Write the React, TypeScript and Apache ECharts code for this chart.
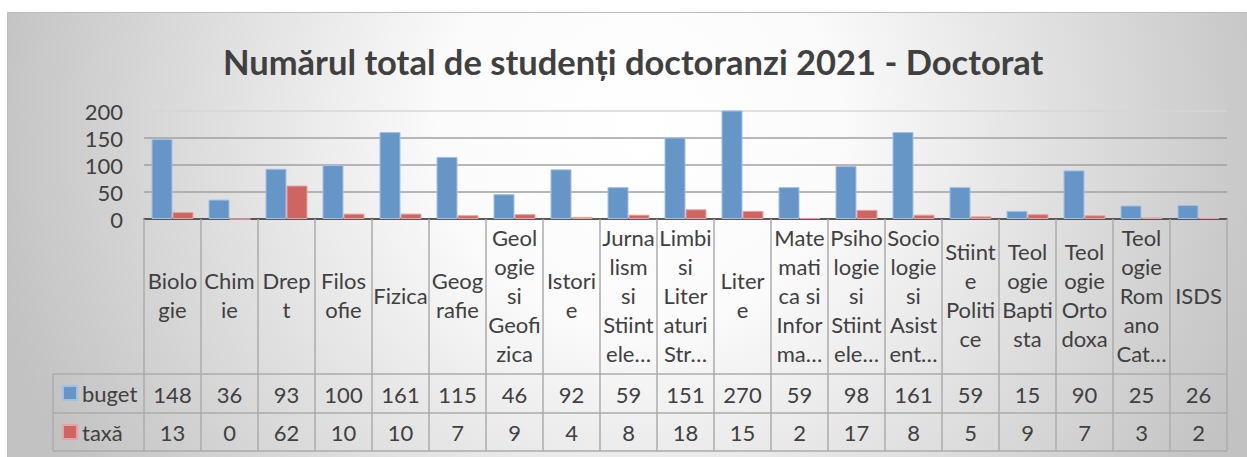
import React, { useEffect, useRef } from "react";
import * as echarts from "echarts";

const TITLE = "Numărul total de studenți doctoranzi 2021 - Doctorat";
const categories = [
  "Biolo\ngie",
  "Chim\nie",
  "Drep\nt",
  "Filos\nofie",
  "Fizica",
  "Geog\nrafie",
  "Geol\nogie\nsi\nGeofi\nzica",
  "Istori\ne",
  "Jurna\nlism\nsi\nStiint\nele…",
  "Limbi\nsi\nLiter\naturi\nStr…",
  "Liter\ne",
  "Mate\nmati\nca si\nInfor\nma…",
  "Psiho\nlogie\nsi\nStiint\nele…",
  "Socio\nlogie\nsi\nAsist\nent…",
  "Stiint\ne\nPoliti\nce",
  "Teol\nogie\nBapti\nsta",
  "Teol\nogie\nOrto\ndoxa",
  "Teol\nogie\nRom\nano\nCat…",
  "ISDS",
];
const buget = [148, 36, 93, 100, 161, 115, 46, 92, 59, 151, 270, 59, 98, 161, 59, 15, 90, 25, 26];
const taxa = [13, 0, 62, 10, 10, 7, 9, 4, 8, 18, 15, 2, 17, 8, 5, 9, 7, 3, 2];
const seriesNames = ["buget", "taxă"];
const yTicks = { min: 0, max: 200, interval: 50 };

const W = 1247;
const H = 457;
const FONT = "Lato, 'Noto Sans', sans-serif";
const FS = 22;
const TXT = "#404040";
const GRID = { left: 144, right: 20, top: 111, bottom: 238 };
const AXIS_Y = H - GRID.bottom; // 219
const ROW1 = 374;
const ROW2 = 413;
const ROW3 = 451;
const TABLE_LEFT = 53;
const TABLE_RIGHT = W - GRID.right;
const LINE = "#ababab";

export default function App() {
  const ref = useRef<HTMLDivElement>(null);
  useEffect(() => {
    if (!ref.current) return;
    const chart = echarts.init(ref.current, undefined, { renderer: "svg" });
    const valueAxis = (vals: number[], margin: number) => ({
      type: "category",
      data: vals.map(String),
      position: "bottom",
      offset: 0,
      axisLine: { show: false },
      axisTick: { show: false },
      axisLabel: {
        interval: 0,
        margin,
        verticalAlign: "middle",
        fontFamily: FONT,
        fontSize: FS,
        color: TXT,
      },
    });
    const hline = (y: number) => ({
      type: "line",
      z: 5,
      shape: { x1: TABLE_LEFT, y1: y, x2: TABLE_RIGHT, y2: y },
      style: { stroke: LINE, lineWidth: 1.5 },
    });
    chart.setOption({
      animation: false,
      backgroundColor: "#ffffff",
      title: {
        text: TITLE,
        left: 218,
        top: 39,
        textStyle: { fontFamily: FONT, fontSize: 34.5, fontWeight: "bold", color: TXT },
      },
      graphic: [
        {
          type: "rect",
          z: -100,
          silent: true,
          shape: { x: 7.5, y: 12.5, width: W - 7, height: H - 12 },
          style: {
            fill: {
              type: "radial",
              x: 640,
              y: 130,
              r: 660,
              global: true,
              colorStops: [
                { offset: 0, color: "#ffffff" },
                { offset: 0.3, color: "#fbfbfb" },
                { offset: 1, color: "#c2c2c2" },
              ],
            },
            stroke: "#bdbdbd",
            lineWidth: 1,
          },
        },
        hline(ROW1),
        hline(ROW2),
        hline(ROW3),
        {
          type: "line",
          z: 5,
          shape: { x1: TABLE_LEFT, y1: ROW1, x2: TABLE_LEFT, y2: ROW3 },
          style: { stroke: LINE, lineWidth: 1.5 },
        },
      ],
      legend: {
        orient: "vertical",
        left: 57,
        top: 377,
        itemWidth: 14,
        itemHeight: 14,
        itemGap: 17,
        icon: "rect",
        data: seriesNames,
        textStyle: { fontFamily: FONT, fontSize: FS, color: TXT, lineHeight: 22 },
      },
      grid: { ...GRID },
      xAxis: [
        {
          type: "category",
          data: categories,
          position: "bottom",
          axisLine: { show: true, lineStyle: { color: "#3a3a3a", width: 1.5 } },
          axisTick: {
            show: true,
            interval: 0,
            length: ROW3 - AXIS_Y,
            lineStyle: { color: LINE, width: 1.5 },
          },
          axisLabel: {
            interval: 0,
            margin: 76,
            verticalAlign: "middle",
            align: "center",
            lineHeight: 29,
            fontFamily: FONT,
            fontSize: FS,
            color: TXT,
          },
        },
        valueAxis(buget, 175),
        valueAxis(taxa, 213),
      ],
      yAxis: {
        type: "value",
        min: yTicks.min,
        max: yTicks.max,
        interval: yTicks.interval,
        axisLine: { show: false },
        axisTick: { show: false },
        axisLabel: { margin: 21, fontFamily: FONT, fontSize: FS, color: TXT },
        splitLine: {
          lineStyle: { color: ["#a0a0a0", "#a0a0a0", "#a0a0a0", "#a0a0a0", "#d6d6d6"], width: 1.5 },
        },
      },
      series: [
        {
          name: seriesNames[0],
          type: "bar",
          data: buget,
          barWidth: 21,
          barGap: "0%",
          clip: true,
          itemStyle: { color: "#6695c8", borderColor: "#a3c0e3", borderWidth: 1 },
        },
        {
          name: seriesNames[1],
          type: "bar",
          data: taxa,
          barWidth: 21,
          barGap: "0%",
          clip: true,
          itemStyle: { color: "#ce6563", borderColor: "#e6a5a4", borderWidth: 1 },
        },
      ],
    });
    return () => chart.dispose();
  }, []);
  return (
    <div
      ref={ref}
      style={{ position: "fixed", left: 0, top: 0, width: W, height: H }}
    />
  );
}
